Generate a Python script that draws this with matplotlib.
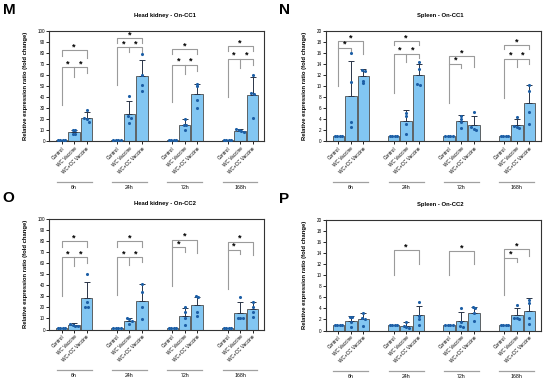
import numpy as np
import matplotlib.pyplot as plt
import matplotlib.transforms as mtransforms

plt.rcParams['font.family'] = ['Liberation Sans', 'DejaVu Sans']

groups = ['6h', '24h', '72h', '168h']
treatments = ['Control', 'WC Vaccine', 'WC+CC Vaccine']

# M - Head kidney On-CC1
hk1_mean = [[1, 8.5, 21], [1, 24.5, 59], [1, 15, 42.6], [1, 9.6, 42]]
hk1_err = [[1, 10.5, 26.5], [1, 36.5, 73.5], [1, 20.5, 52.5], [1, 11.7, 58]]
hk1_pts = [
    [[1, 1, 1, 1], [10, 10, 7, 7], [28.5, 21, 20, 18]],
    [[1, 1, 1, 1], [41.5, 23, 21, 16.5], [79.5, 60, 51, 46]],
    [[1, 1, 1, 1], [20, 15, 15, 10], [52.5, 50, 38, 30.5]],
    [[1, 1, 1, 1], [11, 10, 9.6, 8.4], [60, 43.5, 43, 21.6]],
]
# (group, bar_from, bar_to, height, left_drop, right_drop, mid_drop)
hk1_sig = [
    (0, 0, 2, 82.5, 77, 76, None), (0, 0, 2, 67.5, 33, 62, 58.5),
    (1, 0, 2, 93.5, 89, 89, None), (1, 0, 2, 85.5, 51, 78, 81),
    (2, 0, 2, 83.5, 79.5, 79.5, None), (2, 0, 2, 69.7, 35.4, 63.6, 61.5),
    (3, 0, 2, 86.5, 81.7, 81.7, None), (3, 0, 2, 75, 40, 69, 66.7),
]

# N - Spleen On-CC1
sp1_mean = [[1, 8.3, 11.8], [1, 3.75, 12.1], [1, 3.7, 3.05], [1, 3.05, 6.9]]
sp1_err = [[1, 14.6, 13.2], [1, 5.7, 14.1], [1, 4.8, 4.7], [1, 4.1, 10.2]]
sp1_pts = [
    [[1, 1, 1, 1], [16, 10.8, 3.6, 2.7], [13, 12.7, 11, 10.6]],
    [[1, 1, 1, 1], [5.2, 4.6, 3.2, 1.3], [14.4, 13.1, 10.4, 10.3]],
    [[1, 1, 1, 1], [4.7, 4.1, 3.6, 2.5], [5.3, 2.6, 2.3, 2.0]],
    [[1, 1, 1, 1], [4.5, 2.8, 2.7, 2.4], [10.2, 9.2, 5.3, 3.2]],
]
sp1_sig = [
    (0, 0, 1, 17, 10, 16.2, None), (0, 0, 2, 18.2, 17, 15.9, None),
    (1, 0, 2, 18.2, 17.4, 17.4, None), (1, 0, 2, 15.9, 8.8, 15.2, 14.4),
    (2, 0, 1, 14.1, 7, 13.3, None), (2, 0, 2, 15.5, 14.1, 13.5, None),
    (3, 0, 2, 17.5, 16.7, 16.7, None), (3, 0, 2, 15, 7.9, 14.1, 13.5),
]

# O - Head kidney On-CC2
hk2_mean = [[1, 4, 28.5], [1, 8.1, 26], [1, 12.5, 21.8], [1, 15, 18.3]]
hk2_err = [[1, 5.8, 43], [1, 10.3, 41], [1, 19.5, 29.8], [1, 24.8, 25.3]]
hk2_pts = [
    [[1, 1, 1, 1], [5, 4, 3.5, 3], [50, 25, 20, 20]],
    [[1, 1, 1, 1], [10, 9.6, 8, 5], [41, 33.7, 20, 9.6]],
    [[1, 1, 1, 1], [20.2, 15.7, 10.2, 4.2], [30, 29.5, 15.5, 12.5]],
    [[1, 1, 1, 1], [29.8, 10.5, 10.2, 10], [24.7, 20.8, 15.7, 11.5]],
]
hk2_sig = [
    (0, 0, 2, 80, 75, 75, None), (0, 0, 2, 65.4, 30.7, 60.2, 57.8),
    (1, 0, 2, 80, 75, 75, None), (1, 0, 2, 65.4, 31.3, 60.8, 58.4),
    (2, 0, 1, 74.4, 39, 70.5, None), (2, 0, 2, 81.3, 74.4, 68.9, None),
    (3, 0, 1, 72.3, 37, 68.4, None), (3, 0, 2, 79.5, 72.3, 67.5, None),
]

# P - Spleen On-CC2
sp2_mean = [[1, 1.8, 2.1], [1, 0.85, 2.75], [1, 1.8, 3.2], [1, 2.8, 3.5]]
sp2_err = [[1, 2.6, 3.2], [1, 1.5, 4.5], [1, 3.4, 4.2], [1, 4.0, 5.8]]
sp2_pts = [
    [[1, 1, 1, 1], [2.5, 2.5, 1.5, 0.7], [3.2, 2.3, 2.1, 0.9]],
    [[1, 1, 1, 1], [1.5, 0.9, 0.6, 0.4], [5.2, 2.6, 2.1, 1.0]],
    [[1, 1, 1, 1], [4.1, 1.5, 0.9, 0.7], [4.2, 4.1, 3.2, 1.8]],
    [[1, 1, 1, 1], [4.7, 2.3, 2.2, 2.0], [5.6, 5.0, 2.2, 1.2]],
]
sp2_sig = [
    (1, 0, 2, 14.5, 10, 12.1, None),
    (2, 0, 2, 14.4, 10.1, 12.1, None),
    (3, 0, 1, 13.2, 6.4, 12.5, None), (3, 0, 2, 14.7, 13.2, 13.5, None),
]

BAR = '#82c6f2'
EDGE = '#4d4d4d'
DOT = '#1d5fa6'
ERR = '#2a3447'
BRK = '#9b9b9b'
GROUP_STEP = 4.45


def spread(vals, tol):
    # spread points with (nearly) equal values side by side
    vals = sorted(vals, reverse=True)
    out = []
    cluster = [vals[0]]
    for v in vals[1:]:
        if abs(cluster[-1] - v) <= tol:
            cluster.append(v)
        else:
            out.append(cluster)
            cluster = [v]
    out.append(cluster)
    xs, ys = [], []
    for c in out:
        n = len(c)
        for k, v in enumerate(c):
            xs.append((k - (n - 1) / 2) * 0.2)
            ys.append(v)
    return xs, ys


def panel(rect, letter, title, title_x, ymax, ystep, means, errs, pts, sig, lab_x):
    ax = fig.add_axes(rect)
    xpos = []
    for g in range(len(groups)):
        for i in range(3):
            x = g * GROUP_STEP + i
            xpos.append(x)
            m = means[g][i]
            ax.bar(x, m, width=0.92, color=BAR, edgecolor=EDGE, linewidth=0.6, zorder=2)
            if errs[g][i] > m:
                ax.errorbar(x, m, yerr=[[0], [errs[g][i] - m]], fmt='none', ecolor=ERR,
                            elinewidth=0.7, capsize=2.2, capthick=0.7, zorder=3)
            dx, dy = spread(pts[g][i], 0.02 * ymax)
            ax.scatter(np.array(dx) + x, dy, s=5, color=DOT, zorder=4, linewidths=0)

    for g, i, j, y, yl, yr, ym in sig:
        x0 = g * GROUP_STEP + i
        x1 = g * GROUP_STEP + j
        ax.plot([x0, x0, x1, x1], [yl, y, y, yr], color=BRK, lw=0.8, zorder=1)
        if ym is None:
            stars = [(x0 + x1) / 2]
        else:
            xm = g * GROUP_STEP + 1
            ax.plot([xm, xm], [y, ym], color=BRK, lw=0.8, zorder=1)
            stars = [(x0 + xm) / 2, (xm + x1) / 2]
        for sx in stars:
            ax.text(sx, y + 0.03 * ymax, '*', ha='center', va='center',
                    fontsize=6.5, fontweight='bold', color='black')

    ax.set_xlim(-1.0, 3 * GROUP_STEP + 2.95)
    ax.set_ylim(0, ymax)
    ax.set_yticks(np.arange(0, ymax + 0.1, ystep))
    ax.set_xticks(xpos)
    ax.set_xticklabels(treatments * len(groups), rotation=45, ha='right',
                       rotation_mode='anchor', fontsize=3.4)
    ax.tick_params(axis='y', labelsize=3.3, length=2, width=0.6, pad=1)
    ax.tick_params(axis='x', length=2, width=0.6, pad=1.5)
    for s in ax.spines.values():
        s.set_linewidth(0.8)
        s.set_color('#333333')
    ax.set_ylabel('Relative expression ratio (fold change)', fontsize=4.2,
                  fontweight='bold')
    ax.yaxis.set_label_coords(lab_x, 0.5)

    trans = mtransforms.blended_transform_factory(ax.transData, ax.transAxes)
    for g, name in enumerate(groups):
        x0 = g * GROUP_STEP
        ax.plot([x0 - 0.4, x0 + 2.4], [-0.37, -0.37], color='#a0a0a0', lw=0.9,
                transform=trans, clip_on=False)
        ax.text(x0 + 1, -0.39, name, ha='center', va='top', fontsize=3.8,
                transform=trans)

    fy = rect[1] + rect[3]
    fig.text(rect[0] - 0.085, fy + 0.036, letter, fontsize=11, fontweight='bold',
             ha='left', va='bottom')
    fig.text(title_x, fy + 0.035, title, fontsize=4.2, fontweight='bold',
             ha='center', va='bottom')
    return ax


fig = plt.figure(figsize=(5.5, 3.82), dpi=100)

panel([0.0896, 0.6296, 0.391, 0.289], 'M', 'Head kidney - On-CC1', 0.30,
      100, 10, hk1_mean, hk1_err, hk1_pts, hk1_sig, -0.099)
panel([0.5927, 0.6296, 0.391, 0.289], 'N', 'Spleen - On-CC1', 0.80,
      20, 2, sp1_mean, sp1_err, sp1_pts, sp1_sig, -0.088)
panel([0.0896, 0.1374, 0.391, 0.289], 'O', 'Head kidney - On-CC2', 0.30,
      100, 10, hk2_mean, hk2_err, hk2_pts, hk2_sig, -0.099)
panel([0.5927, 0.1348, 0.391, 0.289], 'P', 'Spleen - On-CC2', 0.80,
      20, 2, sp2_mean, sp2_err, sp2_pts, sp2_sig, -0.088)

plt.savefig('out.png', dpi=100)
